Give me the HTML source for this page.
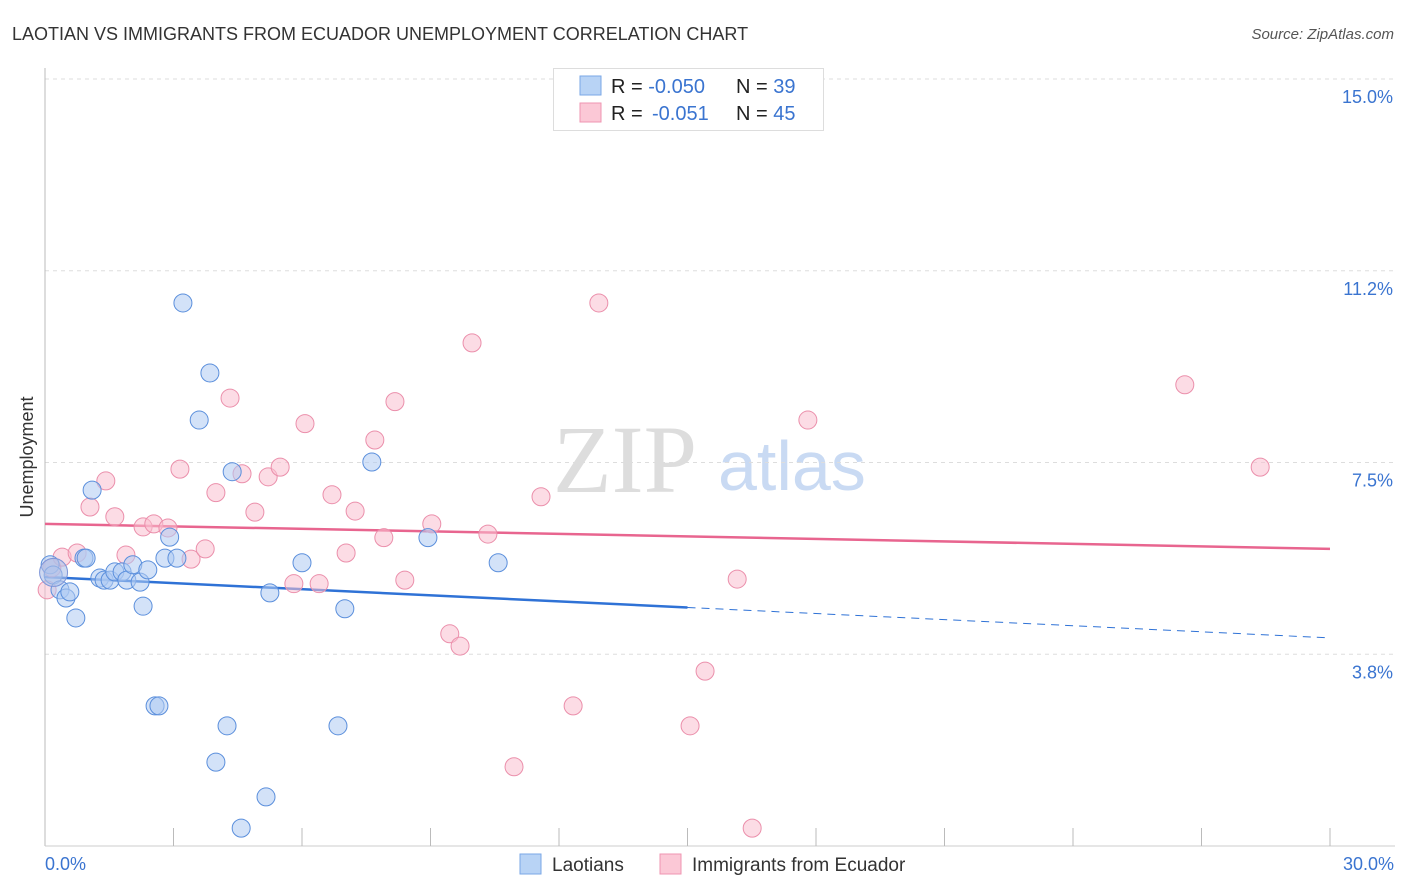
<!DOCTYPE html>
<html><head><meta charset="utf-8"><style>
body{margin:0;background:#fff;font-family:"Liberation Sans",sans-serif;}
svg{display:block}
</style></head><body>
<svg id="chart" width="1406" height="892" xmlns="http://www.w3.org/2000/svg">
<text x="12" y="40" font-size="18" fill="#333">LAOTIAN VS IMMIGRANTS FROM ECUADOR UNEMPLOYMENT CORRELATION CHART</text>
<text x="1394" y="39" font-size="15" fill="#555" text-anchor="end" font-style="italic">Source: ZipAtlas.com</text>
<g>
<text x="553" y="492" font-size="96" fill="#ddd" font-family="Liberation Serif,serif">ZIP</text>
<text x="718" y="490" font-size="70" fill="#c9daf3">atlas</text>
</g>
<g id="grid"></g>
<g id="axes"></g>
<text transform="translate(33,457) rotate(-90)" font-size="18" fill="#333" text-anchor="middle">Unemployment</text>
<g id="trend"></g>
<g id="pts"></g>
<g>
<rect x="553.5" y="68.5" width="270" height="62" fill="#fff" stroke="#ddd"/>
<rect x="580" y="76" width="21" height="19" fill="#b8d3f5" stroke="#7aa7e6"/>
<rect x="580" y="103" width="21" height="19" fill="#fbc8d6" stroke="#ef95b1"/>
<text x="611" y="93" font-size="20" fill="#222">R = <tspan fill="#3a74d0">-0.050</tspan><tspan x="736">N = </tspan><tspan fill="#3a74d0">39</tspan></text>
<text x="611" y="120" font-size="20" fill="#222">R = <tspan x="652" fill="#3a74d0">-0.051</tspan><tspan x="736">N = </tspan><tspan fill="#3a74d0">45</tspan></text>
</g>
<g>
<rect x="520" y="854" width="21" height="20" fill="#b8d3f5" stroke="#7aa7e6"/>
<text x="552" y="871" font-size="19" fill="#333">Laotians</text>
<rect x="660" y="854" width="21" height="20" fill="#fbc8d6" stroke="#ef95b1"/>
<text x="692" y="871" font-size="19" fill="#333">Immigrants from Ecuador</text>
</g>
</svg>
<script>
const blueX=[0.12,0.19,0.35,0.49,0.58,0.72,0.91,0.96,1.10,1.28,1.38,1.52,1.63,1.80,1.91,2.05,2.22,2.29,2.40,2.57,2.66,2.80,2.91,3.08,3.22,3.60,3.85,3.99,4.25,4.37,4.58,5.16,5.25,6.00,6.84,7.00,7.63,8.94,10.58];
const blueY=[5.50,5.30,5.01,4.85,4.97,4.46,5.63,5.63,6.96,5.24,5.20,5.20,5.36,5.36,5.20,5.50,5.16,4.69,5.40,2.74,2.74,5.63,6.04,5.63,10.62,8.33,9.25,1.64,2.35,7.32,0.35,0.96,4.95,5.54,2.35,4.64,7.51,6.03,5.54];
const pinkX=[0.05,0.16,0.40,0.75,1.05,1.42,1.63,1.89,2.29,2.54,2.87,3.15,3.41,3.74,3.99,4.32,4.60,4.90,5.21,5.49,5.81,6.07,6.40,6.70,7.03,7.24,7.70,7.91,8.17,8.40,9.03,9.45,9.69,9.97,10.34,10.95,11.58,12.33,12.93,15.06,15.41,16.16,16.51,17.81,26.61,28.37];
const pinkY=[5.01,5.44,5.65,5.73,6.63,7.14,6.44,5.69,6.24,6.30,6.22,7.37,5.61,5.81,6.91,8.76,7.28,6.53,7.22,7.41,5.13,8.26,5.13,6.87,5.73,6.55,7.94,6.03,8.69,5.20,6.30,4.15,3.91,9.84,6.10,1.55,6.83,2.74,10.62,2.35,3.42,5.22,0.35,8.33,9.02,7.41];
const yTicks=[3.75,7.5,11.25,15];
const yTickLabels=["3.8%","7.5%","11.2%","15.0%"];
const xTicks=[0,3,6,9,12,15,18,21,24,27,30];
const blueTrend=[5.26,4.07];
const pinkTrend=[6.30,5.81];
const X0=45,X1=1330,Y0=846,YTOP=79;
const sx=v=>X0+(v/30)*(X1-X0);
const sy=v=>Y0-(v/15)*(Y0-YTOP);
const NS="http://www.w3.org/2000/svg";
function mk(tag,attrs,parent){const e=document.createElementNS(NS,tag);for(const k in attrs)e.setAttribute(k,attrs[k]);parent.appendChild(e);return e;}
const grid=document.getElementById('grid'),axes=document.getElementById('axes');
yTicks.forEach((t,i)=>{
 const l=mk('line',{x1:X0,x2:1395,y1:sy(t),y2:sy(t),stroke:'#ddd','stroke-dasharray':'4,4'},grid);
 
 
 const tx=mk('text',{x:1393,y:sy(t)+24,'font-size':18,fill:'#3a74d0','text-anchor':'end'},axes);
 tx.textContent=yTickLabels[i];
 
 
});
let a=mk('line',{x1:X0,x2:X0,y1:68,y2:Y0,stroke:'#bbb'},axes);


a=mk('line',{x1:X0,x2:1395,y1:Y0,y2:Y0,stroke:'#ccc'},axes);


xTicks.forEach(t=>{
 if(t===0)return;
 const l=mk('line',{x1:sx(t),x2:sx(t),y1:828,y2:Y0,stroke:'#bbb'},axes);
 
 
});
let t=mk('text',{x:45,y:870,'font-size':18,fill:'#3a74d0'},axes);t.textContent='0.0%';


t=mk('text',{x:1394,y:870,'font-size':18,fill:'#3a74d0','text-anchor':'end'},axes);t.textContent='30.0%';


const pts=document.getElementById('pts');
function dots(xs,ys,fill,stroke,name){xs.forEach((x,i)=>{
 const c=mk('circle',{cx:sx(x),cy:sy(ys[i]),r:9,fill:fill,'fill-opacity':0.55,stroke:stroke,'stroke-width':1},pts);
 
 
});}
dots(pinkX,pinkY,'#f9bfd0','#eb8fab','point-ecuador');
dots(blueX,blueY,'#aecbf2','#5b8fdc','point-laotians');
const big=mk('circle',{cx:sx(0.2),cy:sy(5.35),r:14,fill:'#aebfe8','fill-opacity':0.6,stroke:'#7d95d8'},pts);


const tr=document.getElementById('trend');
const bm=blueTrend[0]+(blueTrend[1]-blueTrend[0])*0.5;
let l=mk('line',{x1:sx(0),y1:sy(blueTrend[0]),x2:sx(15),y2:sy(bm),stroke:'#2f72d6','stroke-width':2.5},tr);


l=mk('line',{x1:sx(15),y1:sy(bm),x2:sx(30),y2:sy(blueTrend[1]),stroke:'#2f72d6','stroke-width':1,'stroke-dasharray':'8,6'},tr);


l=mk('line',{x1:sx(0),y1:sy(pinkTrend[0]),x2:sx(30),y2:sy(pinkTrend[1]),stroke:'#e8658f','stroke-width':2.5},tr);


</script>
</body></html>
